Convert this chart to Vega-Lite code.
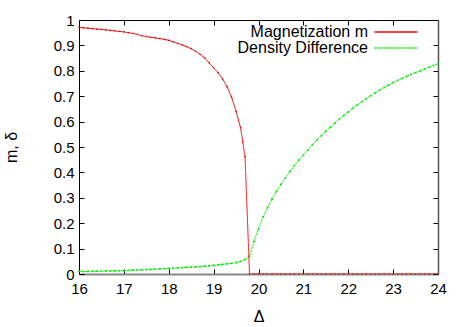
{
  "$schema": "https://vega.github.io/schema/vega-lite/v6.json",
  "width": 359,
  "height": 254,
  "autosize": "none",
  "padding": {"left": 79, "top": 20, "right": 29, "bottom": 53},
  "background": "white",
  "config": {
    "view": {"stroke": null},
    "font": "Liberation Sans",
    "axis": {
      "grid": false,
      "tickSize": -5,
      "tickColor": "#000000",
      "labelColor": "#000000",
      "titleColor": "#000000",
      "labelFontSize": 15,
      "titleFontSize": 16,
      "titleFontWeight": "normal",
      "domainColor": "#000000",
      "labelFlush": false,
      "labelOverlap": false
    }
  },
  "datasets": {
    "mag": [
      {"d": 16.0, "v": 0.971}, {"d": 16.1, "v": 0.969}, {"d": 16.2, "v": 0.968}, {"d": 16.3, "v": 0.966},
      {"d": 16.4, "v": 0.964}, {"d": 16.5, "v": 0.963}, {"d": 16.6, "v": 0.961}, {"d": 16.7, "v": 0.959},
      {"d": 16.8, "v": 0.957}, {"d": 16.9, "v": 0.955}, {"d": 17.0, "v": 0.953}, {"d": 17.1, "v": 0.950},
      {"d": 17.2, "v": 0.947}, {"d": 17.3, "v": 0.943}, {"d": 17.4, "v": 0.938}, {"d": 17.5, "v": 0.935},
      {"d": 17.6, "v": 0.932}, {"d": 17.7, "v": 0.930}, {"d": 17.8, "v": 0.927}, {"d": 17.9, "v": 0.924},
      {"d": 18.0, "v": 0.920}, {"d": 18.1, "v": 0.914}, {"d": 18.2, "v": 0.908}, {"d": 18.3, "v": 0.902},
      {"d": 18.4, "v": 0.895}, {"d": 18.5, "v": 0.887}, {"d": 18.6, "v": 0.877}, {"d": 18.7, "v": 0.865},
      {"d": 18.8, "v": 0.851}, {"d": 18.9, "v": 0.831}, {"d": 19.0, "v": 0.812}, {"d": 19.1, "v": 0.792},
      {"d": 19.2, "v": 0.768}, {"d": 19.3, "v": 0.737}, {"d": 19.4, "v": 0.696}, {"d": 19.5, "v": 0.640},
      {"d": 19.6, "v": 0.576}, {"d": 19.65, "v": 0.52}, {"d": 19.7, "v": 0.462},
      {"d": 19.8, "v": 0}, {"d": 19.9, "v": 0}, {"d": 20.0, "v": 0}, {"d": 20.1, "v": 0}, {"d": 20.2, "v": 0},
      {"d": 20.3, "v": 0}, {"d": 20.4, "v": 0}, {"d": 20.5, "v": 0}, {"d": 20.6, "v": 0}, {"d": 20.7, "v": 0},
      {"d": 20.8, "v": 0}, {"d": 20.9, "v": 0}, {"d": 21.0, "v": 0}, {"d": 21.1, "v": 0}, {"d": 21.2, "v": 0},
      {"d": 21.3, "v": 0}, {"d": 21.4, "v": 0}, {"d": 21.5, "v": 0}, {"d": 21.6, "v": 0}, {"d": 21.7, "v": 0},
      {"d": 21.8, "v": 0}, {"d": 21.9, "v": 0}, {"d": 22.0, "v": 0}, {"d": 22.1, "v": 0}, {"d": 22.2, "v": 0},
      {"d": 22.3, "v": 0}, {"d": 22.4, "v": 0}, {"d": 22.5, "v": 0}, {"d": 22.6, "v": 0}, {"d": 22.7, "v": 0},
      {"d": 22.8, "v": 0}, {"d": 22.9, "v": 0}, {"d": 23.0, "v": 0}, {"d": 23.1, "v": 0}, {"d": 23.2, "v": 0},
      {"d": 23.3, "v": 0}, {"d": 23.4, "v": 0}, {"d": 23.5, "v": 0}, {"d": 23.6, "v": 0}, {"d": 23.7, "v": 0},
      {"d": 23.8, "v": 0}, {"d": 23.9, "v": 0}, {"d": 24.0, "v": 0}
    ],
    "den": [
      {"d": 16.0, "v": 0.010}, {"d": 16.1, "v": 0.010}, {"d": 16.2, "v": 0.010}, {"d": 16.3, "v": 0.011},
      {"d": 16.4, "v": 0.011}, {"d": 16.5, "v": 0.011}, {"d": 16.6, "v": 0.012}, {"d": 16.7, "v": 0.012},
      {"d": 16.8, "v": 0.012}, {"d": 16.9, "v": 0.013}, {"d": 17.0, "v": 0.013}, {"d": 17.1, "v": 0.014},
      {"d": 17.2, "v": 0.015}, {"d": 17.3, "v": 0.016}, {"d": 17.4, "v": 0.016}, {"d": 17.5, "v": 0.017},
      {"d": 17.6, "v": 0.018}, {"d": 17.7, "v": 0.019}, {"d": 17.8, "v": 0.020}, {"d": 17.9, "v": 0.021},
      {"d": 18.0, "v": 0.022}, {"d": 18.1, "v": 0.023}, {"d": 18.2, "v": 0.024}, {"d": 18.3, "v": 0.025},
      {"d": 18.4, "v": 0.026}, {"d": 18.5, "v": 0.027}, {"d": 18.6, "v": 0.028}, {"d": 18.7, "v": 0.029},
      {"d": 18.8, "v": 0.031}, {"d": 18.9, "v": 0.032}, {"d": 19.0, "v": 0.034}, {"d": 19.1, "v": 0.036},
      {"d": 19.2, "v": 0.038}, {"d": 19.3, "v": 0.040}, {"d": 19.4, "v": 0.042}, {"d": 19.5, "v": 0.045},
      {"d": 19.6, "v": 0.050}, {"d": 19.7, "v": 0.057}, {"d": 19.8, "v": 0.070}, {"d": 19.9, "v": 0.128},
      {"d": 20.0, "v": 0.178}, {"d": 20.1, "v": 0.225}, {"d": 20.2, "v": 0.262}, {"d": 20.3, "v": 0.295},
      {"d": 20.4, "v": 0.325}, {"d": 20.5, "v": 0.353}, {"d": 20.6, "v": 0.379}, {"d": 20.7, "v": 0.404},
      {"d": 20.8, "v": 0.427}, {"d": 20.9, "v": 0.448}, {"d": 21.0, "v": 0.469}, {"d": 21.1, "v": 0.489},
      {"d": 21.2, "v": 0.508}, {"d": 21.3, "v": 0.527}, {"d": 21.4, "v": 0.545}, {"d": 21.5, "v": 0.562},
      {"d": 21.6, "v": 0.578}, {"d": 21.7, "v": 0.594}, {"d": 21.8, "v": 0.610}, {"d": 21.9, "v": 0.624},
      {"d": 22.0, "v": 0.638}, {"d": 22.1, "v": 0.652}, {"d": 22.2, "v": 0.665}, {"d": 22.3, "v": 0.678},
      {"d": 22.4, "v": 0.690}, {"d": 22.5, "v": 0.702}, {"d": 22.6, "v": 0.713}, {"d": 22.7, "v": 0.724},
      {"d": 22.8, "v": 0.734}, {"d": 22.9, "v": 0.744}, {"d": 23.0, "v": 0.753}, {"d": 23.1, "v": 0.762},
      {"d": 23.2, "v": 0.770}, {"d": 23.3, "v": 0.778}, {"d": 23.4, "v": 0.786}, {"d": 23.5, "v": 0.793},
      {"d": 23.6, "v": 0.800}, {"d": 23.7, "v": 0.807}, {"d": 23.8, "v": 0.814}, {"d": 23.9, "v": 0.821},
      {"d": 24.0, "v": 0.828}
    ]
  },
  "layer": [
    {
      "data": {"name": "den"},
      "mark": {"type": "line", "strokeWidth": 1, "clip": true},
      "encoding": {
        "x": {"field": "d", "type": "quantitative", "scale": {"domain": [16, 24], "nice": false},
          "axis": {"orient": "top", "values": [16, 17, 18, 19, 20, 21, 22, 23, 24], "labels": false, "title": null, "domainColor": "#000000"}},
        "y": {"field": "v", "type": "quantitative", "scale": {"domain": [0, 1], "nice": false},
          "axis": {"orient": "right", "values": [0, 0.1, 0.2, 0.3, 0.4, 0.5, 0.6, 0.7, 0.8, 0.9, 1], "labels": false, "title": null, "domainColor": "#555555", "domainWidth": 1.5}},
        "color": {"datum": "Density Difference", "type": "nominal",
          "scale": {"domain": ["Magnetization m", "Density Difference"], "range": ["#ff0000", "#00ee00"]},
          "legend": {
            "orient": "none", "legendX": 309, "legendY": 4, "title": null,
            "symbolType": "M-4,0L4,0", "symbolSize": 116, "symbolStrokeWidth": 1.5,
            "rowPadding": 0, "padding": 0,
            "labelAlign": "right", "labelOffset": -36, "symbolOffset": 0,
            "labelFontSize": 16, "labelColor": "#000000", "labelLimit": 300
          }},
        "strokeDash": {"datum": "Density Difference", "type": "nominal",
          "scale": {"domain": ["Magnetization m", "Density Difference"], "range": [[1, 0], [2, 1]]},
          "legend": null}
      }
    },
    {
      "data": {"name": "den"},
      "mark": {"type": "point", "shape": "square", "size": 3, "filled": true, "color": "#00ee00", "opacity": 1},
      "encoding": {
        "x": {"field": "d", "type": "quantitative", "axis": null},
        "y": {"field": "v", "type": "quantitative", "axis": null}
      }
    },
    {
      "data": {"name": "mag"},
      "mark": {"type": "line", "strokeWidth": 1, "clip": true},
      "encoding": {
        "x": {"field": "d", "type": "quantitative",
          "axis": {"orient": "bottom", "values": [16, 17, 18, 19, 20, 21, 22, 23, 24], "labelPadding": 12, "title": "Δ", "titlePadding": 12, "domainColor": "#888888", "domainWidth": 2}},
        "y": {"field": "v", "type": "quantitative",
          "axis": {"orient": "left", "values": [0, 0.1, 0.2, 0.3, 0.4, 0.5, 0.6, 0.7, 0.8, 0.9, 1], "format": "~g", "labelPadding": 10, "title": "m, δ", "titlePadding": 34}},
        "color": {"datum": "Magnetization m", "type": "nominal"},
        "strokeDash": {"datum": "Magnetization m", "type": "nominal"}
      }
    },
    {
      "data": {"name": "mag"},
      "mark": {"type": "point", "shape": "cross", "size": 3, "filled": true, "color": "#dd0000", "opacity": 1},
      "encoding": {
        "x": {"field": "d", "type": "quantitative", "axis": null},
        "y": {"field": "v", "type": "quantitative", "axis": null}
      }
    }
  ],
  "resolve": {"axis": {"x": "independent", "y": "independent"}}
}
